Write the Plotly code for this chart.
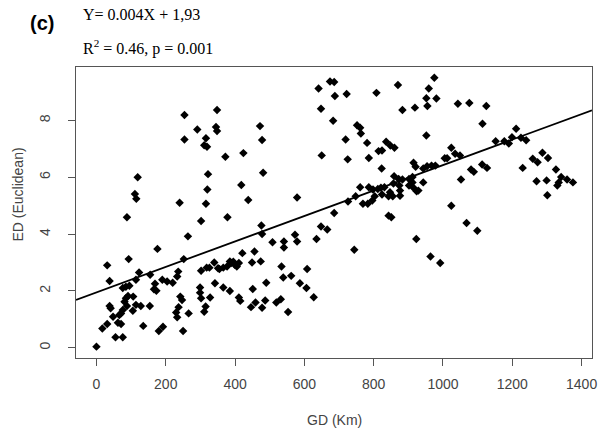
import plotly.graph_objects as go

# Geographic distance (km) and Euclidean distance pairs
GD = [254,254,119,111,115,240,
      88,264,176,31,93,38,123,114,155,252,236,233,190,204,220,169,166,173,76,85,95,106,91,85,81,88,76,38,41,114,128,105,154,48,71,66,62,71,31,17,55,76,0,135,180,192,250,233,230,237,242,247,266,
      348,291,345,348,316,311,319,372,424,472,478,641,648,650,322,481,320,418,316,438,579,
      302,378,476,478,573,508,541,579,541,635,648,421,456,449,474,340,318,326,302,351,366,377,385,389,399,405,411,534,608,562,539,490,587,606,342,366,385,451,299,299,302,328,411,415,459,487,519,532,627,446,478,315,311,553,355,395,
      674,686,688,722,683,808,870,883,919,955,952,981,959,975,752,761,763,719,781,836,848,860,814,824,952,1024,725,786,823,915,921,943,954,967,978,1005,1012,859,872,883,902,912,857,874,912,902,915,924,943,761,786,798,812,821,831,847,855,876,876,748,726,803,824,843,769,796,929,1024,
      783,686,666,744,843,851,923,964,992,
      1043,1076,1125,1114,1035,1049,1152,1177,1190,1199,1211,1225,1240,1113,1127,1081,1089,1052,1230,1259,1273,1287,1303,1270,1299,1326,1341,1334,1330,1358,1375,1301,
      1068,1099]
ED = [8.19,7.33,6.0,5.41,5.24,5.10,
      4.59,3.92,3.48,2.90,3.12,2.35,2.65,2.39,2.57,3.12,2.68,2.51,2.39,2.33,2.29,2.25,2.06,2.01,2.10,2.15,2.18,1.80,1.82,1.74,1.62,1.47,1.33,1.47,1.39,1.51,1.47,1.30,1.47,1.09,1.21,1.15,0.88,0.84,0.84,0.68,0.37,0.37,0.04,0.77,0.59,0.74,0.59,1.07,1.24,1.43,1.80,1.68,1.21,
      8.37,7.68,7.77,7.63,7.37,7.13,7.07,6.72,6.85,7.80,7.31,9.12,8.41,6.77,6.11,6.16,5.57,5.73,5.07,5.20,5.29,
      4.46,4.59,4.30,4.00,3.98,3.71,3.74,3.74,3.53,3.83,4.27,3.33,3.39,3.00,3.04,3.00,2.82,2.82,2.71,2.80,2.82,2.86,3.04,2.98,2.92,2.86,2.98,2.86,2.77,2.53,2.47,2.29,2.27,2.10,2.27,2.12,2.00,2.07,2.12,1.94,1.74,1.77,1.77,1.65,1.59,1.66,1.59,1.71,1.78,1.43,1.41,1.45,1.27,1.26,2.77,3.03,
      9.37,9.35,8.86,8.93,7.99,8.97,9.25,8.37,8.45,8.51,8.78,8.77,9.12,9.50,7.83,7.74,7.54,7.33,7.21,7.25,7.12,7.04,6.92,6.94,7.47,7.04,6.63,6.68,6.31,6.51,6.37,6.31,6.39,6.41,6.41,6.67,6.67,6.04,5.94,5.92,5.94,6.01,5.78,5.71,5.82,5.71,5.63,5.51,5.82,5.65,5.65,5.57,5.59,5.63,5.65,5.47,5.33,5.53,5.35,5.33,5.15,5.33,5.39,5.33,5.07,5.18,5.53,5.00,
      5.07,4.74,4.16,3.45,4.65,4.59,3.83,3.21,2.98,
      8.59,8.61,8.51,7.88,6.83,6.77,7.27,7.27,7.19,7.41,7.71,7.39,7.30,6.45,6.33,6.27,6.19,5.92,6.33,6.65,6.53,6.86,6.68,5.86,5.89,6.27,6.01,5.82,5.71,5.92,5.82,5.37,
      4.39,4.12]

# Regression line as drawn (intercept, slope)
LINE_INTERCEPT = 1.95
LINE_SLOPE = 0.00448

X_TICKS = [0, 200, 400, 600, 800, 1000, 1200, 1400]
Y_TICKS = [0, 2, 4, 6, 8]

# Axis ranges (R-style padding around the data)
X_RANGE = [-59, 1430]
Y_RANGE = [-0.36, 9.88]

W, H = 604, 435
ML, MR, MT, MB = 76, 7, 67, 77

fig = go.Figure()
fig.add_trace(go.Scatter(
    x=GD, y=ED, mode="markers",
    marker=dict(symbol="diamond", size=6.5, color="black", line=dict(width=0)),
    showlegend=False, hoverinfo="skip"))
fig.add_trace(go.Scatter(
    x=X_RANGE, y=[LINE_INTERCEPT + LINE_SLOPE * v for v in X_RANGE], mode="lines",
    line=dict(color="black", width=1.8), showlegend=False, hoverinfo="skip"))

axis_common = dict(showline=True, linecolor="#555", linewidth=1, mirror=True,
                   ticks="outside", ticklen=7, tickcolor="#555", showgrid=False,
                   zeroline=False, tickfont=dict(family="Liberation Sans, Arial", size=14, color="#444"))
fig.update_xaxes(range=X_RANGE, tickvals=X_TICKS, ticklabelstandoff=6, **axis_common)
fig.update_yaxes(range=Y_RANGE, tickvals=Y_TICKS, tickangle=-90, ticklabelstandoff=12, **axis_common)

pw, ph = W - ML - MR, H - MT - MB
def px(xp): return (xp - ML) / pw
def py(yp): return (H - MB - yp) / ph

label_font = dict(family="Liberation Sans, Arial", size=14, color="#444")
annotations = [
    dict(text="GD (Km)", x=px(337), y=py(420), xref="paper", yref="paper", xanchor="center", yanchor="middle",
         showarrow=False, font=label_font),
    dict(text="ED (Euclidean)", x=px(17), y=py(195), xref="paper", yref="paper", xanchor="center", yanchor="middle",
         textangle=-90, showarrow=False, font=label_font),
    dict(text="<b>(c)</b>", x=px(28), y=py(23), xref="paper", yref="paper", xanchor="left", yanchor="middle",
         showarrow=False, font=dict(family="Liberation Sans, Arial", size=20, color="black")),
    dict(text="Y= 0.004X + 1,93", x=px(81), y=py(15), xref="paper", yref="paper", xanchor="left", yanchor="middle",
         showarrow=False, font=dict(family="Liberation Serif, Times New Roman", size=16, color="black")),
    dict(text="R<sup>2</sup> = 0.46, p = 0.001", x=px(81), y=py(47), xref="paper", yref="paper", xanchor="left",
         yanchor="middle", showarrow=False, font=dict(family="Liberation Serif, Times New Roman", size=16, color="black")),
]

fig.update_layout(
    width=W, height=H,
    margin=dict(l=ML, r=MR, t=MT, b=MB),
    paper_bgcolor="white", plot_bgcolor="white",
    annotations=annotations,
)

fig.write_html("out.html", config={"displayModeBar": False},
               post_script="document.body.style.margin='0';")
